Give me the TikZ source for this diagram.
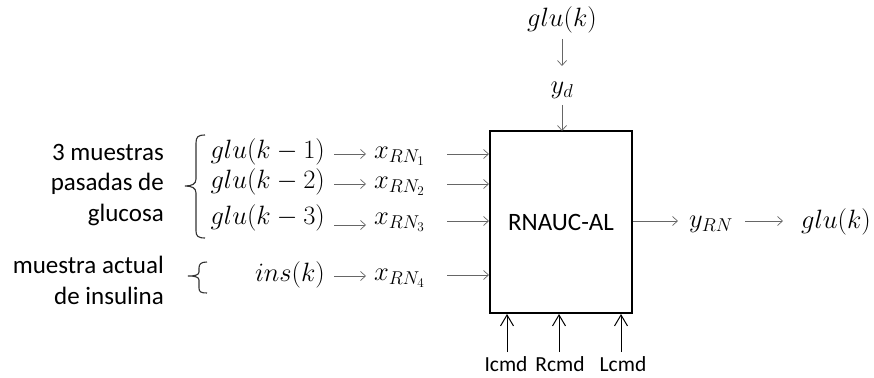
\RequirePackage{fix-cm}
\documentclass[tikz,border=0pt]{standalone}
\usepackage{fontspec}
\setmainfont{Carlito}
\usetikzlibrary{arrows.meta}
\begin{document}
\begin{tikzpicture}[x=1pt,y=-1pt,
  txt/.style={font=\fontsize{25}{30}\selectfont, inner sep=0pt},
  btxt/.style={font=\fontsize{21.5}{26}\selectfont, inner sep=0pt},
  mth/.style={font=\fontsize{26.5}{31}\selectfont, inner sep=0pt},
  thin arr/.style={draw=black!60, line width=0.7pt, -{Straight Barb[length=5pt,width=9pt]}},
  bot arr/.style={draw=black, line width=1pt, -{Straight Barb[length=11pt,width=13pt]}},
  brc/.style={draw=black!80, line width=1.1pt}]
\useasboundingbox (0,0) rectangle (874,377);
% block
\node[draw, line width=2pt, minimum width=142pt, minimum height=182pt, inner sep=0pt,
      font=\fontsize{25}{30}\selectfont] (blk) at (561,222) {RNAUC-AL};
% top
\node[mth] (gk) at (562,20) {$glu(k)$};
\node[mth] (yd) at (562,90) {$y_d$};
\draw[thin arr] (562,39) -- (562,66);
\draw[thin arr] (562,105) -- (562,131);
% left signals
\node[mth, anchor=east] (g1) at (325,152) {$glu(k-1)$};
\node[mth, anchor=east] (g2) at (325,182) {$glu(k-2)$};
\node[mth, anchor=east] (g3) at (325,218) {$glu(k-3)$};
\node[mth, anchor=east] (ins) at (325,275) {$ins(k)$};
\node[mth, anchor=west] (x1) at (374,156) {$x_{RN_1}$};
\node[mth, anchor=west] (x2) at (374,186) {$x_{RN_2}$};
\node[mth, anchor=west] (x3) at (374,222) {$x_{RN_3}$};
\node[mth, anchor=west] (x4) at (374,278) {$x_{RN_4}$};
\draw[thin arr] (334,154) -- (366,154);
\draw[thin arr] (334,184) -- (366,184);
\draw[thin arr] (334,225) -- (366,225);
\draw[thin arr] (334,276) -- (366,276);
\draw[thin arr] (447,154) -- (blk.west |- 0,154);
\draw[thin arr] (447,184) -- (blk.west |- 0,184);
\draw[thin arr] (447,221) -- (blk.west |- 0,221);
\draw[thin arr] (447,275) -- (blk.west |- 0,275);
% output
\node[mth] (yrn) at (711,224) {$y_{RN}$};
\node[mth] (gout) at (836,222) {$glu(k)$};
\draw[thin arr] (blk.east |- 0,221) -- (678,221);
\draw[thin arr] (745,221) -- (783,221);
% bottom
\node[btxt] (ic) at (506,364) {Icmd};
\node[btxt] (rc) at (560,364) {Rcmd};
\node[btxt] (lc) at (623,364) {Lcmd};
\draw[bot arr] (507,352) -- (507,314);
\draw[bot arr] (559,352) -- (559,314);
\draw[bot arr] (621,352) -- (621,314);
% left labels
\node[txt, anchor=east] (l1) at (164,152) {3 muestras};
\node[txt, anchor=east] (l2) at (164,184) {pasadas de};
\node[txt, anchor=east] (l3) at (164,215) {glucosa};
\node[txt, anchor=east] (l4) at (164,265) {muestra actual};
\node[txt, anchor=east] (l5) at (164,296) {de insulina};
% braces
\draw[brc] (205,135) .. controls (198,135) and (196,137) .. (196,143) -- (196,179)
  .. controls (196,184) and (192,186) .. (185,186)
  .. controls (192,186) and (196,188) .. (196,193) -- (196,231)
  .. controls (196,236) and (198,238) .. (205,238);
\draw[brc] (207,262) .. controls (201,262) and (199,264) .. (199,268) -- (199,272)
  .. controls (199,275) and (195,276) .. (188,276)
  .. controls (195,276) and (199,277) .. (199,280) -- (199,288)
  .. controls (199,292) and (201,293) .. (207,293);
\end{tikzpicture}
\end{document}
